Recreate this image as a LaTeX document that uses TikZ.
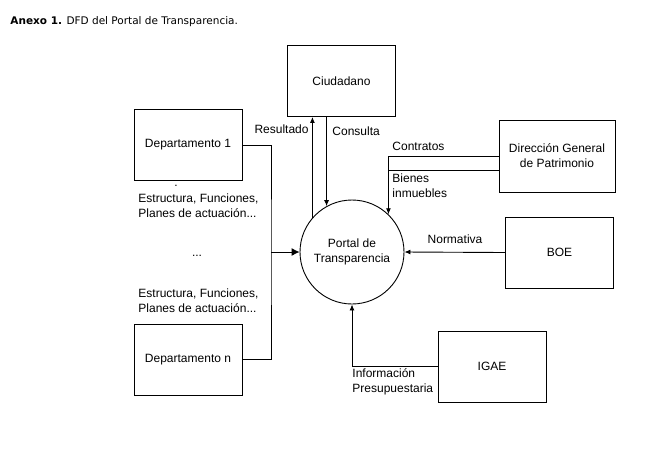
\documentclass[tikz,border=0pt]{standalone}
\usepackage{fontspec}
\setmainfont{Liberation Sans}
\newfontfamily\titlefont{DejaVu Sans}
\usepackage{tikz}
\usetikzlibrary{arrows.meta}

\begin{document}
\begin{tikzpicture}[x=1pt,y=-1pt,line width=0.9pt,>={Latex[length=6pt,width=5pt]},
    font=\fontsize{12}{15}\selectfont,
    main/.style={draw, minimum width=108pt, minimum height=71pt, align=center},
    proc/.style={draw, circle, minimum size=104pt, align=center},
    lbl/.style={inner sep=0pt, align=left}]
            \useasboundingbox (0,0) rectangle (671,448);
            \node[anchor=base west, inner sep=0pt, font=\titlefont\fontsize{10.5}{12}\selectfont] (t) at (10,24) {\textbf{Anexo 1.} DFD del Portal de Transparencia.};

            \node[main] (0) at (341.5,81) {Ciudadano};
            \node[main] (1) at (188,145) {Departamento 1};
            \node[main] (2) at (188,359.5) {Departamento n};
            \node[proc] (3) at (352,252) {Portal de\\Transparencia};
            \node[main, minimum width=116pt, minimum height=72pt] (4) at (557,156) {Dirección General\\de Patrimonio};
            \node[main] (5) at (559.5,252.5) {BOE};
            \node[main] (6) at (492,366.5) {IGAE};
            \coordinate (j) at (271,252);

            \draw[->] (3.139) -- (3.139 |- 0.south);
            \draw[->] (3.119 |- 0.south) -- (3.119);
            \draw[->] (4.west) -| (3.46);
            \draw ([yshift=-14pt]4.west) -- ([yshift=-14pt]4.west -| 3.46);
            \draw[->] (5.west) -- (3.east);
            \draw[->] (6.west) -| (3.south);
            \draw (1.east) -| (j) |- (2.east);
            \draw[-{Latex[length=8pt,width=8pt]}] (j) -- (3.west);

            \node[lbl, anchor=east] (r) at (309,129) {Resultado};
            \node[lbl, anchor=west] (c) at (332,131) {Consulta};
            \node[lbl, anchor=west] (k) at (392,146) {Contratos};
            \node[lbl, anchor=north west] (b) at (392,173) {Bienes\\inmuebles};
            \node[lbl] (n) at (455,239) {Normativa};
            \node[lbl, anchor=north west] (i) at (352,368) {Información\\Presupuestaria};
            \node[lbl, anchor=base] (d) at (176,186) {.};
            \node[lbl, anchor=west] (e1) at (138,205.5) {Estructura, Funciones,\\Planes de actuación...};
            \node[lbl, anchor=base] (p) at (197,256) {...};
            \node[lbl, anchor=west] (e2) at (138,301) {Estructura, Funciones,\\Planes de actuación...};
          \end{tikzpicture}
\end{document}
